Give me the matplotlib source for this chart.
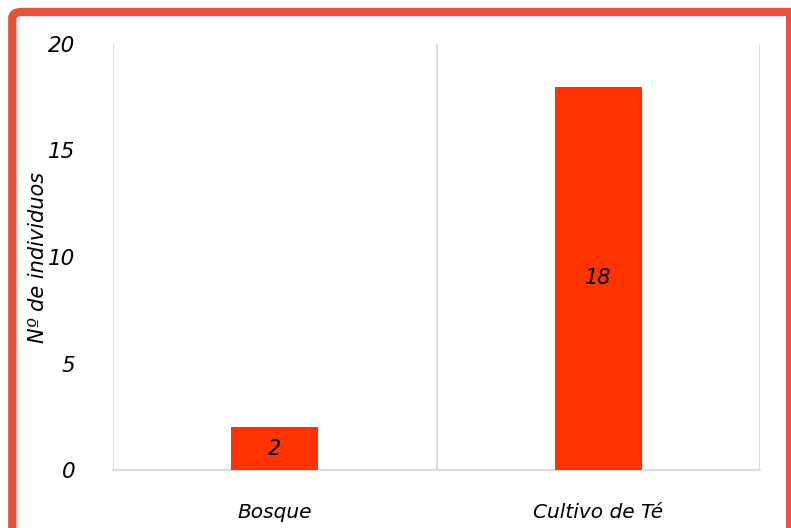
import matplotlib.pyplot as plt
from matplotlib.patches import FancyBboxPatch, Rectangle

categories = ["Bosque", "Cultivo de Té"]
values = [2, 18]
yticks = [0, 5, 10, 15, 20]

bar_color = "#FF3300"
border_color = "#E5533D"
grid_color = "#D9D9D9"

plt.rcParams['font.family'] = ['DejaVu Sans']

fig = plt.figure(figsize=(7.91, 5.28), dpi=100)
ax = fig.add_axes([113/791, 58/528, (760-113)/791, (470-44)/528])

x = list(range(len(categories)))
bars = ax.bar(x, values, width=0.27, color=bar_color, zorder=3)

# value labels centred inside each bar
for xi, v in zip(x, values):
    ax.text(xi, v/2, str(v), ha='center', va='center', fontsize=15,
            style='italic', color='black', zorder=4)

ax.set_xlim(-0.5, len(categories) - 0.5)
ax.set_ylim(0, 20)
ax.set_yticks(yticks)
ax.set_yticklabels([str(t) for t in yticks], fontsize=15.5, style='italic')
ax.set_xticks(x)
ax.set_xticklabels(categories, fontsize=14.5, style='italic')
ax.tick_params(axis='both', length=0)
ax.tick_params(axis='y', pad=27)
ax.tick_params(axis='x', pad=24)

for s in ['top', 'left', 'right']:
    ax.spines[s].set_visible(False)
ax.spines['bottom'].set_color(grid_color)
ax.spines['bottom'].set_linewidth(1.3)

# vertical separators between categories
for edge in [-0.5, 0.5, 1.5]:
    ax.axvline(edge, color=grid_color, lw=1.3, zorder=1)

ax.set_ylabel("Nº de individuos", fontsize=15, style='italic')
ax.yaxis.set_label_coords(-0.1005, 0.5)

# frame around the whole figure (cut off at the right and bottom)
frame = FancyBboxPatch((12.3/791, -0.05), 1.2, 1 - 12/528 + 0.05,
                       boxstyle="round,pad=0,rounding_size=0.012",
                       transform=fig.transFigure, fill=False,
                       edgecolor=border_color, linewidth=6, clip_on=False)
fig.patches.append(frame)
right_band = Rectangle((786/791, 0), 10/791, 1 - 8/528,
                       transform=fig.transFigure, color=border_color, lw=0)
fig.patches.append(right_band)

fig.savefig("out.png", dpi=100)
